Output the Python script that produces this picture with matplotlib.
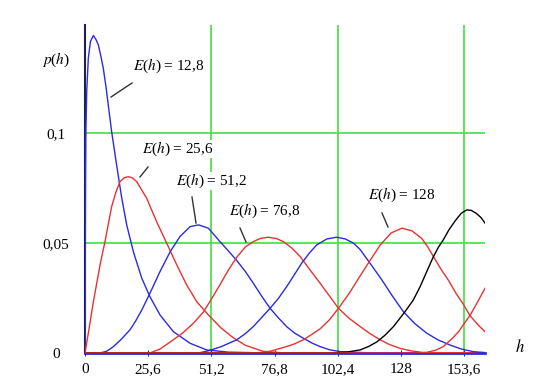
import matplotlib
matplotlib.use("Agg")
import matplotlib.pyplot as plt

plt.rcParams['font.family'] = ['Liberation Serif', 'DejaVu Serif']
plt.rcParams['mathtext.fontset'] = 'stix'
plt.rcParams['font.size'] = 11

# curves, (h, p(h))
h1 = [0, 0.1, 0.2, 0.35, 0.7, 1.35, 2.2, 3.4, 4.4, 5.4, 6.4, 7.4, 8.5, 9.5, 10.8, 12.8, 14.9, 16.9, 19.6, 23.0, 26.3, 30.4, 35.8, 42.6, 49.3, 58, 70, 162.1]
p1 = [0, 0.03, 0.07, 0.1, 0.119, 0.134, 0.1415, 0.1442, 0.1425, 0.14, 0.135, 0.1294, 0.121, 0.112, 0.1005, 0.0855, 0.0703, 0.0582, 0.046, 0.034, 0.0256, 0.0173, 0.0097, 0.0044, 0.0014, 0.0004, 0.0001, 0]

h2 = [0, 1.5, 3.4, 6.1, 8.1, 10.8, 12.5, 14.2, 15.9, 17.6, 19.3, 20.9, 25.0, 29.0, 33.1, 37.2, 41.2, 45.3, 50.0, 55.0, 60.0, 65.0, 72.0, 80, 162.1]
p2 = [0, 0.01, 0.0233, 0.04, 0.0506, 0.0665, 0.073, 0.0779, 0.0796, 0.0801, 0.0795, 0.0779, 0.0703, 0.0597, 0.0499, 0.04, 0.0309, 0.0233, 0.0173, 0.0115, 0.007, 0.0035, 0.0008, 0.0001, 0]

h3 = [0, 6.1, 8.8, 11.5, 14.5, 18.2, 20.5, 23.0, 26.3, 30.4, 34.5, 38.5, 42.6, 46.0, 50.0, 54.7, 58.0, 61.5, 65.0, 68.2, 71.5, 75.0, 78.5, 81.7, 85.0, 88.5, 92.0, 95.3, 99.0, 103.4, 115, 162.1]
p3 = [0, 0, 0.0008, 0.0029, 0.006, 0.0105, 0.0145, 0.0195, 0.0271, 0.037, 0.046, 0.0529, 0.0574, 0.0582, 0.0567, 0.0506, 0.0465, 0.042, 0.037, 0.0317, 0.026, 0.0203, 0.0158, 0.012, 0.009, 0.0067, 0.0045, 0.0029, 0.0015, 0.0006, 0.0001, 0]

h4 = [0, 26.3, 30.4, 35.8, 39.5, 43.9, 47.9, 50.7, 54.7, 58.0, 61.5, 65.0, 68.2, 71.0, 74.3, 77.5, 80.4, 84.0, 87.2, 91.0, 95.3, 99.0, 102.7, 107.0, 111.5, 115.5, 119.6, 123.5, 127.7, 132.0, 137.2, 162.1]
p4 = [0, 0, 0.0018, 0.006, 0.009, 0.0135, 0.0185, 0.0235, 0.031, 0.0375, 0.0435, 0.0482, 0.0506, 0.052, 0.0526, 0.052, 0.0506, 0.0475, 0.0438, 0.038, 0.0317, 0.026, 0.0203, 0.0158, 0.012, 0.0088, 0.006, 0.0038, 0.0021, 0.001, 0.0002, 0]

h5 = [0, 46.0, 50.0, 55.0, 61.5, 65.0, 68.2, 71.5, 75.0, 78.5, 81.7, 84.8, 87.8, 91.0, 93.9, 98.0, 102.0, 105.5, 108.8, 111.5, 116.0, 120.3, 124.5, 129.0, 133.5, 138.5, 143.0, 148.0, 152.5, 157.4, 162.1]
p5 = [0, 0, 0.001, 0.0028, 0.006, 0.0088, 0.012, 0.016, 0.0203, 0.025, 0.0301, 0.0355, 0.0408, 0.0455, 0.0491, 0.0518, 0.0526, 0.0518, 0.0499, 0.047, 0.04, 0.0332, 0.026, 0.0188, 0.0135, 0.009, 0.006, 0.0036, 0.0018, 0.0006, 0.0002]

h6 = [0, 70.0, 75.0, 81.7, 85.0, 88.5, 92.0, 95.3, 99.0, 102.7, 107.0, 111.5, 115.5, 119.6, 124.0, 128.4, 132.5, 136.5, 139.0, 141.2, 144.3, 147.3, 150.4, 153.4, 156.0, 159.5, 162.1]
p6 = [0, 0, 0.0008, 0.0029, 0.0042, 0.006, 0.0085, 0.011, 0.015, 0.0203, 0.027, 0.035, 0.042, 0.049, 0.0545, 0.0567, 0.0555, 0.052, 0.048, 0.0438, 0.038, 0.033, 0.027, 0.022, 0.017, 0.0125, 0.0097]

h7 = [0, 100.0, 106.0, 111.5, 115.0, 118.2, 121.5, 125.0, 129.7, 133.0, 135.8, 138.5, 141.2, 143.2, 145.2, 147.5, 150.0, 152.5, 154.7, 156.5, 158.5, 160.5, 162.1]
p7 = [0, 0, 0.0004, 0.0014, 0.003, 0.005, 0.008, 0.012, 0.0188, 0.024, 0.0301, 0.037, 0.0438, 0.048, 0.0514, 0.056, 0.060, 0.0635, 0.065, 0.0648, 0.0635, 0.0615, 0.059]

h8 = [0, 135.0, 138.5, 142.0, 145.2, 149.0, 151.5, 153.4, 156.0, 159.0, 162.1]
p8 = [0, 0, 0.0003, 0.0012, 0.0029, 0.0068, 0.0098, 0.013, 0.017, 0.023, 0.0294]

xticks = [0, 25.6, 51.2, 76.8, 102.4, 128, 153.6]
xlabels = ['0', '25,6', '51,2', '76,8', '102,4', '128', '153,6']
yticks = [0, 0.05, 0.1]
ylabels = ['0', '0,05', '0,1']

blue = '#2b2be0'
red = '#e83232'
green = '#3fe03f'

fig = plt.figure(figsize=(5.41, 3.87), dpi=100)
ax = fig.add_axes([85/541, 34/387, 400/541, 328/387])

for v in [0.05, 0.1]:
    ax.axhline(v, color=green, lw=1.2, zorder=1)
for v in [51.2, 102.4, 153.6]:
    ax.axvline(v, color=green, lw=1.2, zorder=1)

ax.plot(h1, p1, color=blue, lw=1.0, zorder=3)
ax.plot(h2, p2, color=red, lw=1.0, zorder=3)
ax.plot(h3, p3, color=blue, lw=1.0, zorder=3)
ax.plot(h4, p4, color=red, lw=1.0, zorder=3)
ax.plot(h5, p5, color=blue, lw=1.0, zorder=3)
ax.plot(h6, p6, color=red, lw=1.0, zorder=3)
ax.plot(h7, p7, color='black', lw=1.0, zorder=3)
ax.plot(h8, p8, color=red, lw=1.0, zorder=3)

ax.set_xlim(0, 162.1)
ax.set_ylim(0, 0.149)
ax.spines['top'].set_visible(False)
ax.spines['right'].set_visible(False)
ax.spines['left'].set_color('#1e1e55')
ax.spines['left'].set_linewidth(1.5)
ax.spines['bottom'].set_color(blue)
ax.spines['bottom'].set_linewidth(2.0)

ax.set_xticks(xticks)
ax.set_xticklabels(xlabels)
ax.set_yticks(yticks)
ax.set_yticklabels(ylabels)
ax.tick_params(axis='x', direction='inout', length=5, width=0.8, color='#333333', pad=5)
ax.tick_params(axis='y', length=0, pad=21)
for lab in ax.get_yticklabels():
    lab.set_horizontalalignment('center')

fig.text(56/541, 1 - 60/387, r'$p$($h$)', ha='center', va='center', fontsize=11)
fig.text(520/541, 1 - 348/387, r'$h$', ha='center', va='center', fontsize=12)

# annotations: text, text position, line start, line end (pixels of the figure)
notes = [
    (r'$E$($h$) = 12,8', (169, 66), (111, 97), (132, 83)),
    (r'$E$($h$) = 25,6', (178, 149), (140, 177), (148, 167)),
    (r'$E$($h$) = 51,2', (212, 181), (192, 197), (196, 223)),
    (r'$E$($h$) = 76,8', (265, 211), (240, 228), (246, 242)),
    (r'$E$($h$) = 128', (402, 195), (382, 213), (388, 227)),
]
for txt, tp, a, b in notes:
    fig.text(tp[0]/541, 1 - tp[1]/387, txt, ha='center', va='center', fontsize=11,
             bbox=dict(facecolor='white', edgecolor='none', pad=1.5 if '12,8' in txt else 0.1), zorder=5)
    fig.add_artist(plt.Line2D([a[0]/541, b[0]/541], [1 - a[1]/387, 1 - b[1]/387],
                              color='#333333', lw=1.0))

fig.savefig('out.png', dpi=100)
